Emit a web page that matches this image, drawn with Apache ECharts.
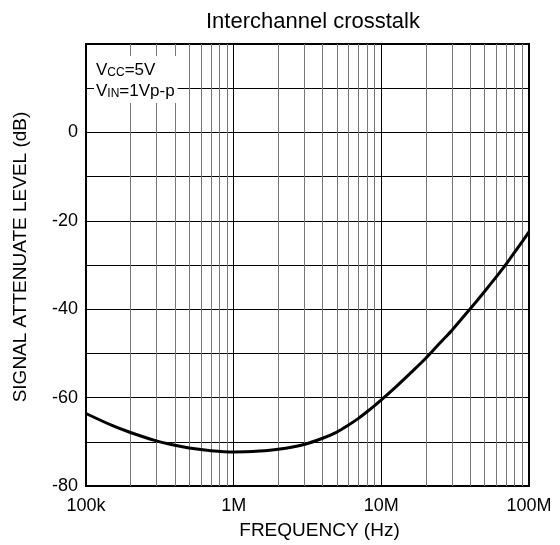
<!DOCTYPE html>
<html>
<head>
<meta charset="utf-8">
<script src="https://cdn.jsdelivr.net/npm/echarts@6/dist/echarts.min.js"></script>
<style>
html,body{margin:0;padding:0;background:#fff;}
#chart{width:560px;height:545px;}
</style>
</head>
<body>
<div id="chart"></div>
<script>
// ---- data ----
const frequencies = [1e5, 1.5e5, 2e5, 3e5, 4e5, 5e5, 7e5, 1e6, 1.5e6, 2e6, 3e6, 4e6, 5e6, 6e6, 7e6, 8e6, 9e6, 1e7, 1.26e7, 1.58e7, 2e7, 2.5e7, 3e7, 4e7, 5e7, 6e7, 7e7, 8e7, 9e7, 1e8];
const levels = [-63.6, -66.3, -67.9, -69.8, -70.8, -71.4, -72.0, -72.3, -72.1, -71.7, -70.6, -69.2, -67.8, -66.2, -64.7, -63.2, -61.8, -60.5, -57.5, -54.4, -51.1, -47.6, -44.8, -39.9, -36.0, -32.7, -29.8, -27.1, -24.7, -22.5];
const minorGridFreqs = [2e5,3e5,4e5,5e5,6e5,7e5,8e5,9e5, 2e6,3e6,4e6,5e6,6e6,7e6,8e6,9e6, 2e7,3e7,4e7,5e7,6e7,7e7,8e7,9e7];
const xTickLabels = {1e5:'100k', 1e6:'1M', 1e7:'10M', 1e8:'100M'};
const yLabelValues = [0, -20, -40, -60, -80];
const titleText = 'Interchannel crosstalk';
const xName = 'FREQUENCY (Hz)';
const yName = 'SIGNAL ATTENUATE LEVEL (dB)';

const FONT = 'Liberation Sans, Arial, Helvetica, sans-serif';
const chart = echarts.init(document.getElementById('chart'), null, {renderer:'canvas'});
const option = {
  backgroundColor: '#fff',
  animation: false,
  textStyle: {fontFamily: FONT},
  grid: {left: 86, right: 31, top: 44, bottom: 59, show: true, borderColor: '#000', borderWidth: 2, backgroundColor: 'transparent'},
  graphic: [
    {type:'text', x: 313, y: 11, style: {text: titleText, fontFamily: FONT, fontSize: 22, fill:'#000', textAlign:'center'}},
    {type:'text', x: 94, y: 56, z: 100, style: {
      text: '{a|V}{s|CC}{a|=5V}\n{a|V}{s|IN}{a|=1Vp-p}',
      fontFamily: FONT, fill:'#000', backgroundColor:'#fff', padding:[2,3,3,2], lineHeight: 21,
      rich: {a:{fontSize:17, fontFamily:FONT, lineHeight:21, verticalAlign:'bottom'}, s:{fontSize:12, fontFamily:FONT, lineHeight:19, verticalAlign:'bottom'}}
    }}
  ],
  xAxis: {
    type: 'log', logBase: 10, min: 1e5, max: 1e8,
    name: xName, nameLocation: 'middle', nameGap: 35,
    nameTextStyle: {fontSize: 19, color:'#000', fontFamily: FONT, padding: [0,0,0,24]},
    axisLine: {show: false, onZero: false},
    axisTick: {show: false},
    axisLabel: {color:'#000', fontSize: 18, fontFamily: FONT, margin: 11, formatter: v => xTickLabels[v] || ''},
    splitLine: {show: true, lineStyle: {color:'#000', width: 1}}
  },
  yAxis: {
    type: 'value', min: -80, max: 20, interval: 10,
    name: yName, nameLocation: 'middle', nameGap: 56,
    nameTextStyle: {fontSize: 19, color:'#000', fontFamily: FONT, padding: [0,0,0,16]},
    axisLine: {show: false, onZero: false},
    axisTick: {show: false},
    axisLabel: {color:'#000', fontSize: 18, fontFamily: FONT, margin: 8, formatter: v => yLabelValues.indexOf(v) >= 0 ? String(v) : ''},
    splitLine: {show: true, lineStyle: {color:'#000', width: 1}}
  },
  series: [{
    type: 'line',
    data: frequencies.map((f, i) => [f, levels[i]]),
    smooth: 0.3,
    showSymbol: false,
    lineStyle: {color:'#000', width: 3},
    z: 5,
    markLine: {
      silent: true, symbol: 'none', label: {show: false},
      lineStyle: {color:'#777', width: 1, type:'solid'},
      data: minorGridFreqs.map(f => ({xAxis: f})),
      z: 1
    }
  }]
};
chart.setOption(option);
</script>
</body>
</html>
